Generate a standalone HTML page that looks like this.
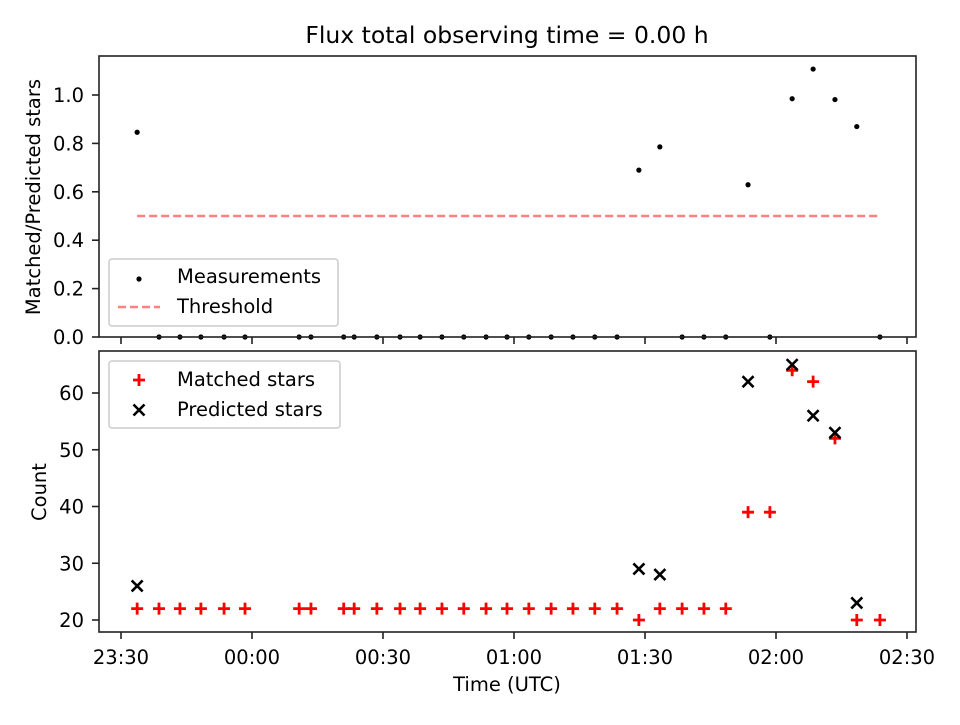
<!DOCTYPE html>
<html><head><meta charset="utf-8"><style>
body{margin:0;background:#fff}
svg text{font-family:"DejaVu Sans","Liberation Sans",sans-serif;fill:#000}
</style></head><body>
<svg id="chart" width="960" height="720" xmlns="http://www.w3.org/2000/svg"></svg>
<script>
// minutes after 23:30 UTC
const times = [3.7,8.7,13.5,18.3,23.6,28.4,40.8,43.5,51,53.4,58.6,63.9,68.5,73.5,78.5,83.6,88.4,93.4,98.5,103.5,108.5,113.6,118.6,123.4,128.5,133.5,138.5,143.6,148.6,153.7,158.5,163.5,168.5,173.8];
const matched = [22,22,22,22,22,22,22,22,22,22,22,22,22,22,22,22,22,22,22,22,22,22,20,22,22,22,22,39,39,64,62,52,20,20];
const predicted = [26,0,0,0,0,0,0,0,0,0,0,0,0,0,0,0,0,0,0,0,0,0,29,28,0,0,0,62,0,65,56,53,23,0];
const threshold = 0.5;
const xTickLabels = ["23:30","00:00","00:30","01:00","01:30","02:00","02:30"];
const topTicks = [0.0,0.2,0.4,0.6,0.8,1.0];
const botTicks = [20,30,40,50,60];

const NS="http://www.w3.org/2000/svg";
const svg=document.getElementById('chart');
function el(tag,attrs,parent){const e=document.createElementNS(NS,tag);for(const k in attrs)e.setAttribute(k,attrs[k]);(parent||svg).appendChild(e);return e;}
const X=m=>121+m*131/30;
const Yt=v=>337-v*242;
const Yb=v=>620-(v-20)*227/40;
const L=99,R=916,FS=19.5;

let t=el('text',{x:507,y:43,'font-size':23.5,'text-anchor':'middle'});t.textContent='Flux total observing time = 0.00 h';



// top panel
el('line',{x1:X(times[0]),x2:X(times[times.length-1]),y1:Yt(threshold),y2:Yt(threshold),stroke:'#ff8080','stroke-width':2.5,'stroke-dasharray':'8,4'});
times.forEach((m,i)=>{
  const r=predicted[i]>0?matched[i]/predicted[i]:0;
  const c=el('circle',{cx:X(m),cy:Yt(r),r:2.6,fill:'#000'});
  
  
});
el('rect',{x:L,y:56,width:R-L,height:281,fill:'none',stroke:'#222','stroke-width':1.6});
topTicks.forEach(v=>{
  el('line',{x1:L-7,x2:L,y1:Yt(v),y2:Yt(v),stroke:'#222','stroke-width':1.6});
  const tx=el('text',{x:L-15,y:Yt(v)+7,'font-size':FS,'text-anchor':'end'});tx.textContent=v.toFixed(1);
  
});
xTickLabels.forEach((s,i)=>{el('line',{x1:X(i*30),x2:X(i*30),y1:337,y2:344,stroke:'#222','stroke-width':1.6});});
t=el('text',{x:40,y:197,'font-size':FS,'text-anchor':'middle',transform:'rotate(-90 40 197)'});t.textContent='Matched/Predicted stars';

// top legend
let g=el('g',{});
el('rect',{x:109,y:259,width:229,height:67,rx:3,fill:'#fff','fill-opacity':0.8,stroke:'#ccc','stroke-width':1.5},g);
el('circle',{cx:139,cy:279,r:2.6,fill:'#000'},g);
t=el('text',{x:177,y:283,'font-size':FS},g);t.textContent='Measurements';
el('line',{x1:118,x2:160,y1:307,y2:307,stroke:'#ff8080','stroke-width':2.5,'stroke-dasharray':'8,4'},g);
t=el('text',{x:177,y:313,'font-size':FS},g);t.textContent='Threshold';

// bottom panel
times.forEach((m,i)=>{
  const x=X(m),y=Yb(matched[i]);
  const p=el('path',{d:`M${x-6},${y}H${x+6}M${x},${y-6}V${y+6}`,stroke:'#f00','stroke-width':2.8});
  
  
  if(predicted[i]>0){const yp=Yb(predicted[i]);
    const q=el('path',{d:`M${x-5.5},${yp-5.5}L${x+5.5},${yp+5.5}M${x-5.5},${yp+5.5}L${x+5.5},${yp-5.5}`,stroke:'#000','stroke-width':2.6});
    
    }
});
el('rect',{x:L,y:351,width:R-L,height:281,fill:'none',stroke:'#222','stroke-width':1.6});
botTicks.forEach(v=>{
  el('line',{x1:L-7,x2:L,y1:Yb(v),y2:Yb(v),stroke:'#222','stroke-width':1.6});
  const tx=el('text',{x:L-15,y:Yb(v)+7,'font-size':FS,'text-anchor':'end'});tx.textContent=v;
  
});
xTickLabels.forEach((s,i)=>{
  el('line',{x1:X(i*30),x2:X(i*30),y1:632,y2:639,stroke:'#222','stroke-width':1.6});
  const tx=el('text',{x:X(i*30),y:664,'font-size':FS,'text-anchor':'middle'});tx.textContent=s;
  
});
t=el('text',{x:507,y:691,'font-size':FS,'text-anchor':'middle'});t.textContent='Time (UTC)';

t=el('text',{x:46,y:492,'font-size':FS,'text-anchor':'middle',transform:'rotate(-90 46 492)'});t.textContent='Count';

g=el('g',{});
el('rect',{x:109,y:361,width:231,height:67,rx:3,fill:'#fff','fill-opacity':0.8,stroke:'#ccc','stroke-width':1.5},g);
el('path',{d:'M133,380H145M139,374V386',stroke:'#f00','stroke-width':2.8},g);
t=el('text',{x:177,y:386,'font-size':FS},g);t.textContent='Matched stars';
el('path',{d:'M133.5,404.5L144.5,415.5M133.5,415.5L144.5,404.5',stroke:'#000','stroke-width':2.6},g);
t=el('text',{x:177,y:416,'font-size':FS},g);t.textContent='Predicted stars';
</script>
</body></html>
